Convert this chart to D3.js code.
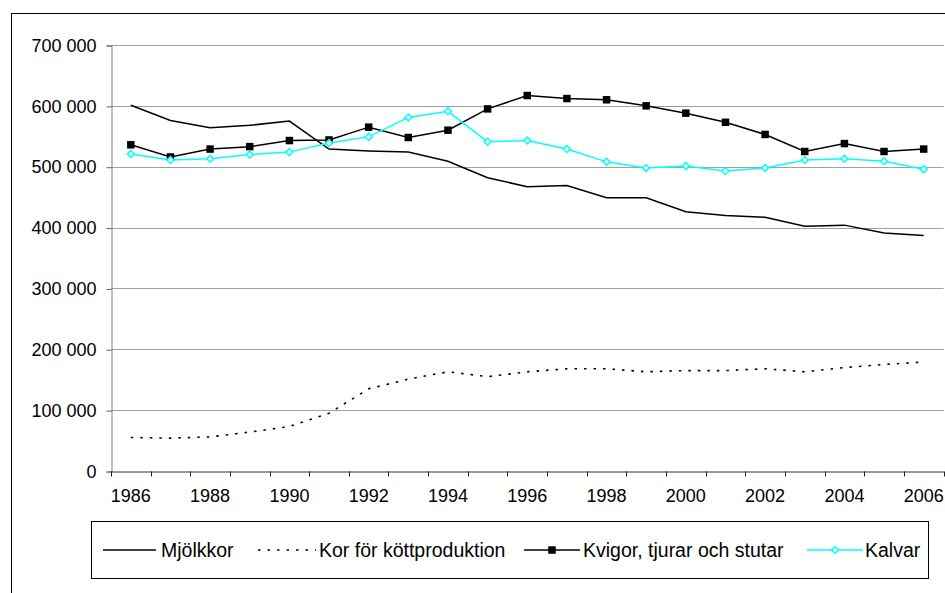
<!DOCTYPE html>
<html>
<head>
<meta charset="utf-8">
<script src="https://cdn.jsdelivr.net/npm/d3@7"></script>
<style>
  html, body { margin: 0; padding: 0; background: #fff; }
  svg { display: block; font-family: "Liberation Sans", Arial, sans-serif; }
</style>
</head>
<body>
<svg id="chart" width="945" height="593"></svg>
<script>
const years = [1986,1987,1988,1989,1990,1991,1992,1993,1994,1995,1996,1997,1998,1999,2000,2001,2002,2003,2004,2005,2006];
const yearLabels = [1986,1988,1990,1992,1994,1996,1998,2000,2002,2004,2006];
const yTicks = [0,100000,200000,300000,400000,500000,600000,700000];

const mjolkkor = [601000,576000,564000,568000,575000,529000,526000,524000,509000,482000,467000,469000,449000,449000,426000,420000,417000,402000,404000,391000,387000];
const korKott  = [55000,54000,56000,64000,73000,95000,135000,151000,163000,155000,163000,168000,168000,163000,165000,165000,168000,163000,170000,175000,179000];
const kvigor   = [536000,516000,529000,533000,543000,544000,565000,548000,560000,595000,617000,612000,610000,600000,588000,573000,553000,525000,538000,525000,529000];
const kalvar   = [521000,511000,513000,520000,524000,539000,549000,581000,591000,541000,543000,529000,508000,498000,501000,493000,498000,511000,513000,509000,496000];

const seriesNames = ["Mjölkkor","Kor för köttproduktion","Kvigor, tjurar och stutar","Kalvar"];

(function(){
const svg = d3.select("#chart");

// outer chart frame
svg.append("rect").attr("x",11.5).attr("y",13.5).attr("width",960).attr("height",620)
  .attr("fill","none").attr("stroke","#000").attr("stroke-width",1);

const pLeft = 111, pRight = 943.5, pTop = 45, pBottom = 471;
const x = d3.scaleBand().domain(years).range([pLeft,pRight]).padding(0);
const y = d3.scaleLinear().domain([0,700000]).range([pBottom,pTop]);
const cx = d => x(d) + x.bandwidth()/2;

// gridlines
svg.append("g").selectAll("line").data(yTicks.filter(v=>v>0)).join("line")
  .attr("x1",pLeft).attr("x2",pRight)
  .attr("y1",d=>Math.round(y(d))+0.5).attr("y2",d=>Math.round(y(d))+0.5)
  .attr("stroke","#a0a0a0").attr("stroke-width",1);

// y axis
const fmt = v => d3.format(",")(v).replace(/,/g," ");
const yAxis = svg.append("g").attr("transform",`translate(${pLeft+0.5},0.5)`)
  .call(d3.axisLeft(y).tickValues(yTicks).tickFormat(fmt).tickSize(5).tickPadding(10));
yAxis.select(".domain").attr("stroke","#808080");
yAxis.selectAll(".tick line").attr("stroke","#606060");
yAxis.selectAll(".tick text").attr("font-size",18).attr("fill","#000")
  .attr("font-family","'Liberation Sans', Arial, sans-serif");

// x axis
const xAxis = svg.append("g").attr("transform",`translate(0,${pBottom+0.5})`)
  .call(d3.axisBottom(x).tickValues(yearLabels).tickSize(0).tickPadding(18));
xAxis.select(".domain").attr("stroke","#333");
xAxis.selectAll(".tick text").attr("font-size",18).attr("fill","#000")
  .attr("font-family","'Liberation Sans', Arial, sans-serif");
const bounds = years.map(d=>x(d)).concat([pRight]);
xAxis.append("g").selectAll("line").data(bounds).join("line")
  .attr("x1",d=>Math.round(d)+0.5).attr("x2",d=>Math.round(d)+0.5)
  .attr("y1",0).attr("y2",5).attr("stroke","#222");

// lines
const line = d3.line().x((d,i)=>cx(years[i])).y(d=>y(d));
const plot = svg.append("g");
plot.append("path").datum(mjolkkor).attr("d",line)
  .attr("fill","none").attr("stroke","#000").attr("stroke-width",1.5);
plot.append("path").datum(korKott).attr("d",line)
  .attr("fill","none").attr("stroke","#000").attr("stroke-width",1.6).attr("stroke-dasharray","2.5,7");
plot.append("path").datum(kvigor).attr("d",line)
  .attr("fill","none").attr("stroke","#000").attr("stroke-width",1.5);
plot.append("path").datum(kalvar).attr("d",line)
  .attr("fill","none").attr("stroke","#00ffff").attr("stroke-width",1.5);

const sq = d3.symbol().type(d3.symbolSquare).size(56);
const dia = d3.symbol().type(d3.symbolSquare).size(24);
plot.append("g").selectAll("path").data(kvigor).join("path")
  .attr("d",sq).attr("transform",(d,i)=>`translate(${cx(years[i])},${y(d)})`).attr("fill","#000");
plot.append("g").selectAll("path").data(kalvar).join("path")
  .attr("d",dia).attr("transform",(d,i)=>`translate(${cx(years[i])},${y(d)}) rotate(45)`)
  .attr("fill","#fff").attr("stroke","#00ffff").attr("stroke-width",1.5);

// legend
const lg = svg.append("g");
lg.append("rect").attr("x",91.5).attr("y",521.5).attr("width",837).attr("height",57)
  .attr("fill","#fff").attr("stroke","#000").attr("stroke-width",1);
const ly = 550;
const items = [
  {x1:103,x2:156,tx:161,style:"solid",color:"#000",marker:null},
  {x1:258,x2:316,tx:319,style:"dot",color:"#000",marker:null},
  {x1:524,x2:580,tx:583,style:"solid",color:"#000",marker:"sq"},
  {x1:807,x2:863,tx:865,style:"solid",color:"#00ffff",marker:"dia"}
];
items.forEach((it,k)=>{
  lg.append("line").attr("x1",it.x1).attr("x2",it.x2).attr("y1",ly).attr("y2",ly)
    .attr("stroke",it.color).attr("stroke-width",1.5)
    .attr("stroke-dasharray",it.style==="dot"?"2.5,7":null);
  const mx=(it.x1+it.x2)/2;
  if(it.marker==="sq") lg.append("path").attr("d",sq).attr("transform",`translate(${mx},${ly})`).attr("fill","#000");
  if(it.marker==="dia") lg.append("path").attr("d",dia).attr("transform",`translate(${mx},${ly}) rotate(45)`)
    .attr("fill","#fff").attr("stroke","#00ffff").attr("stroke-width",1.5);
  lg.append("text").attr("x",it.tx).attr("y",ly).attr("dy","0.35em")
    .attr("font-size",19.5).attr("fill","#000").text(seriesNames[k]);
});
})();
</script>
</body>
</html>
